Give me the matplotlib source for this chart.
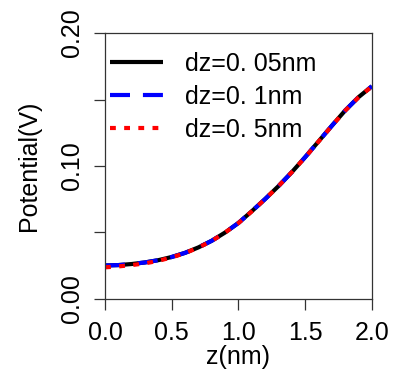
import matplotlib
matplotlib.use("Agg")
import matplotlib.pyplot as plt

plt.rcParams['font.family'] = ['Liberation Sans', 'DejaVu Sans']

# Potential profiles along z for three grid spacings
z_nm = [0.0, 0.1, 0.2, 0.3, 0.4, 0.5, 0.6, 0.7, 0.8, 0.9, 1.0,
        1.1, 1.2, 1.3, 1.4, 1.5, 1.6, 1.7, 1.8, 1.9, 2.0]
v_dz005 = [0.0252, 0.0255, 0.0263, 0.0275, 0.0292, 0.0316, 0.0347, 0.0388, 0.0438, 0.0500, 0.0572,
           0.0660, 0.0752, 0.0849, 0.0954, 0.1067, 0.1185, 0.1303, 0.1418, 0.1518, 0.1600]
v_dz01 = [0.0252, 0.0255, 0.0263, 0.0275, 0.0292, 0.0316, 0.0347, 0.0388, 0.0438, 0.0500, 0.0572,
          0.0660, 0.0752, 0.0849, 0.0954, 0.1067, 0.1185, 0.1303, 0.1418, 0.1518, 0.1600]
v_dz05 = [0.0238, 0.0245, 0.0255, 0.0268, 0.0287, 0.0313, 0.0345, 0.0387, 0.0437, 0.0500, 0.0571,
          0.0659, 0.0752, 0.0849, 0.0954, 0.1066, 0.1184, 0.1302, 0.1417, 0.1517, 0.1598]

labels = ["dz=0. 05nm", "dz=0. 1nm", "dz=0. 5nm"]
x_ticks = [0.0, 0.5, 1.0, 1.5, 2.0]
y_ticks = [0.00, 0.05, 0.10, 0.15, 0.20]
y_ticklabels = ["0.00", "", "0.10", "", "0.20"]

FS = 18

fig = plt.figure(figsize=(3.94, 3.70), dpi=100)
ax = fig.add_axes([0.2665, 0.1919, 0.944 - 0.2665, 0.9108 - 0.1919])

ax.plot(z_nm, v_dz005, color="black", lw=3, solid_capstyle="butt", label=labels[0])
ax.plot(z_nm, v_dz01, color="blue", lw=3, dashes=(4.8, 3.1), label=labels[1])
ax.plot(z_nm, v_dz05, color="red", lw=3, dashes=(1.4, 2.0), label=labels[2])

ax.set_xlim(0, 2.0)
ax.set_ylim(0, 0.20)
ax.set_xticks(x_ticks)
ax.set_xticklabels([f"{v:.1f}" for v in x_ticks])
ax.set_yticks(y_ticks)
ax.set_yticklabels(y_ticklabels, rotation=90, va="center")
ax.tick_params(direction="out", length=8, width=0.9, labelsize=FS, color="#333333")
ax.tick_params(axis="x", pad=8)
ax.tick_params(axis="y", pad=7)

for s in ax.spines.values():
    s.set_linewidth(0.9)
    s.set_color("#333333")

ax.set_xlabel("z(nm)", fontsize=FS, labelpad=0)
ax.set_ylabel("Potential(V)", fontsize=FS, labelpad=14)

leg = ax.legend(loc="upper left", frameon=False, fontsize=FS, handlelength=2.1,
                handletextpad=0.9, labelspacing=0.36, borderaxespad=0.0,
                borderpad=0.0, bbox_to_anchor=(0.02, 0.93))

fig.savefig("out.png", dpi=100)
